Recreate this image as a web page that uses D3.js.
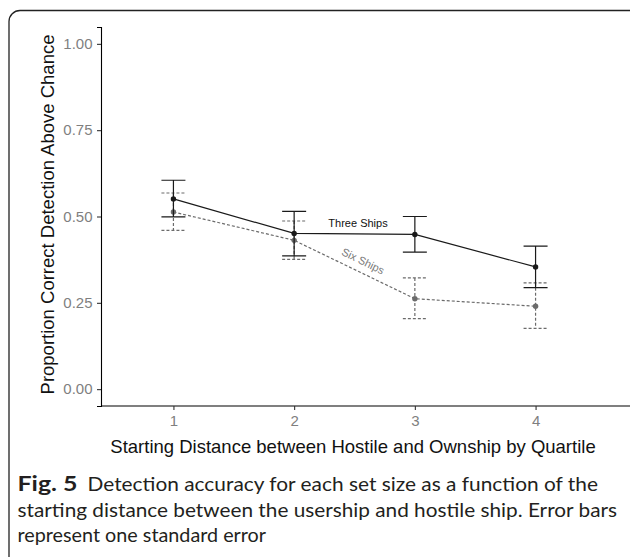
<!DOCTYPE html>
<html lang="en">
<head>
    <meta charset="UTF-8">
    <title>Detection accuracy by quartile</title>
    <script src="https://d3js.org/d3.v7.js"></script>
    <style>
        body { margin: 0; background: #fff; }
    </style>
</head>
<body>
<svg></svg>
<script>
    // data
    let quartiles = [1, 2, 3, 4];
    let threeMean = [0.551, 0.451, 0.448, 0.354];
    let threeLow = [0.499, 0.386, 0.397, 0.294];
    let threeHigh = [0.605, 0.515, 0.500, 0.414];
    let sixMean = [0.513, 0.431, 0.262, 0.240];
    let sixLow = [0.460, 0.376, 0.204, 0.176];
    let sixHigh = [0.568, 0.487, 0.322, 0.308];
    let yTicks = [0, 0.25, 0.5, 0.75, 1];

    let width = 630, height = 557;
    let svg = d3.select("svg").attr("width", width).attr("height", height);

    // frame round figure + caption
    svg.append("rect")
        .attr("x", 9).attr("y", 10.5)
        .attr("width", 650).attr("height", 560)
        .attr("rx", 11)
        .attr("fill", "none").attr("stroke", "#222").attr("stroke-width", 1.3);

    let xScale = d3.scaleLinear().domain([0.4, 4.6]).range([101, 608]);
    let yScale = d3.scaleLinear().domain([-0.0488, 1.0488]).range([406, 27]);

    let font = "'Liberation Sans', Arial, sans-serif";

    // axes
    let yAxis = d3.axisLeft(yScale).tickValues(yTicks).tickFormat(d3.format(".2f")).tickSize(4).tickPadding(4.5);
    let gy = svg.append("g").attr("transform", "translate(101,0)").call(yAxis);
    let xAxis = d3.axisBottom(xScale).tickValues(quartiles).tickFormat(d3.format("d")).tickSize(4).tickPadding(5);
    let gx = svg.append("g").attr("transform", "translate(0,406)").call(xAxis);

    [gx, gy].forEach(g => {
        g.select(".domain").attr("stroke", "#000").attr("stroke-width", 1.1);
        g.selectAll(".tick line").attr("stroke", "#333").attr("stroke-width", 1.1);
        g.selectAll(".tick text").attr("fill", "#7f7f7f")
            .style("font-family", font).style("font-size", "15px");
    });
    gx.select(".domain").attr("d", "M101,0H630");

    // axis titles
    svg.append("text")
        .attr("transform", "translate(53.5,214.5) rotate(-90)")
        .attr("text-anchor", "middle")
        .style("font-family", font).style("font-size", "18.5px")
        .attr("fill", "#111")
        .text("Proportion Correct Detection Above Chance");
    svg.append("text")
        .attr("x", 353).attr("y", 452.7)
        .attr("text-anchor", "middle")
        .style("font-family", font).style("font-size", "18.5px")
        .attr("fill", "#111")
        .text("Starting Distance between Hostile and Ownship by Quartile");

    let series = [
        {mean: sixMean, low: sixLow, high: sixHigh, color: "#6b6b6b", dash: "3,2"},
        {mean: threeMean, low: threeLow, high: threeHigh, color: "#1a1a1a", dash: null}
    ];

    let line = d3.line().x((d, i) => xScale(quartiles[i])).y(d => yScale(d));

    series.forEach(s => {
        let g = svg.append("g");
        // error bars
        quartiles.forEach((q, i) => {
            let x = xScale(q);
            let path = d3.path();
            path.moveTo(x - 12, yScale(s.high[i])); path.lineTo(x + 12, yScale(s.high[i]));
            path.moveTo(x, yScale(s.high[i])); path.lineTo(x, yScale(s.low[i]));
            path.moveTo(x - 12, yScale(s.low[i])); path.lineTo(x + 12, yScale(s.low[i]));
            g.append("path").attr("d", path.toString())
                .attr("fill", "none").attr("stroke", s.color).attr("stroke-width", 1.2)
                .attr("stroke-dasharray", s.dash);
        });
        g.append("path").datum(s.mean).attr("d", line)
            .attr("fill", "none").attr("stroke", s.color).attr("stroke-width", 1.2)
            .attr("stroke-dasharray", s.dash);
        g.selectAll("circle").data(s.mean).join("circle")
            .attr("cx", (d, i) => xScale(quartiles[i]))
            .attr("cy", d => yScale(d))
            .attr("r", 2.7)
            .attr("fill", s.color);
    });

    // direct labels
    svg.append("text")
        .attr("x", 358).attr("y", 227)
        .attr("text-anchor", "middle")
        .style("font-family", font).style("font-size", "11px")
        .attr("fill", "#111")
        .text("Three Ships");
    svg.append("text")
        .attr("transform", "translate(363,261) rotate(26)")
        .attr("text-anchor", "middle").attr("dominant-baseline", "central")
        .style("font-family", font).style("font-size", "11px")
        .attr("fill", "#7a7a7a")
        .text("Six Ships");

    // caption
    let capFont = "Lato, 'Open Sans', sans-serif";
    svg.append("text")
        .attr("x", 17.5).attr("y", 491)
        .style("font-family", capFont).style("font-size", "20px").style("font-weight", "bold")
        .attr("fill", "#231f20")
        .attr("textLength", 60).attr("lengthAdjust", "spacingAndGlyphs")
        .text("Fig. 5");
    let capLines = [
        {x: 87.5, y: 491, len: 510.5, text: "Detection accuracy for each set size as a function of the"},
        {x: 17.5, y: 517, len: 599.5, text: "starting distance between the usership and hostile ship. Error bars"},
        {x: 17.5, y: 542, len: 248.5, text: "represent one standard error"}
    ];
    capLines.forEach(c => {
        svg.append("text")
            .attr("x", c.x).attr("y", c.y)
            .style("font-family", capFont).style("font-size", "20px")
            .attr("fill", "#231f20")
            .attr("textLength", c.len).attr("lengthAdjust", "spacingAndGlyphs")
            .text(c.text);
    });
</script>
</body>
</html>
